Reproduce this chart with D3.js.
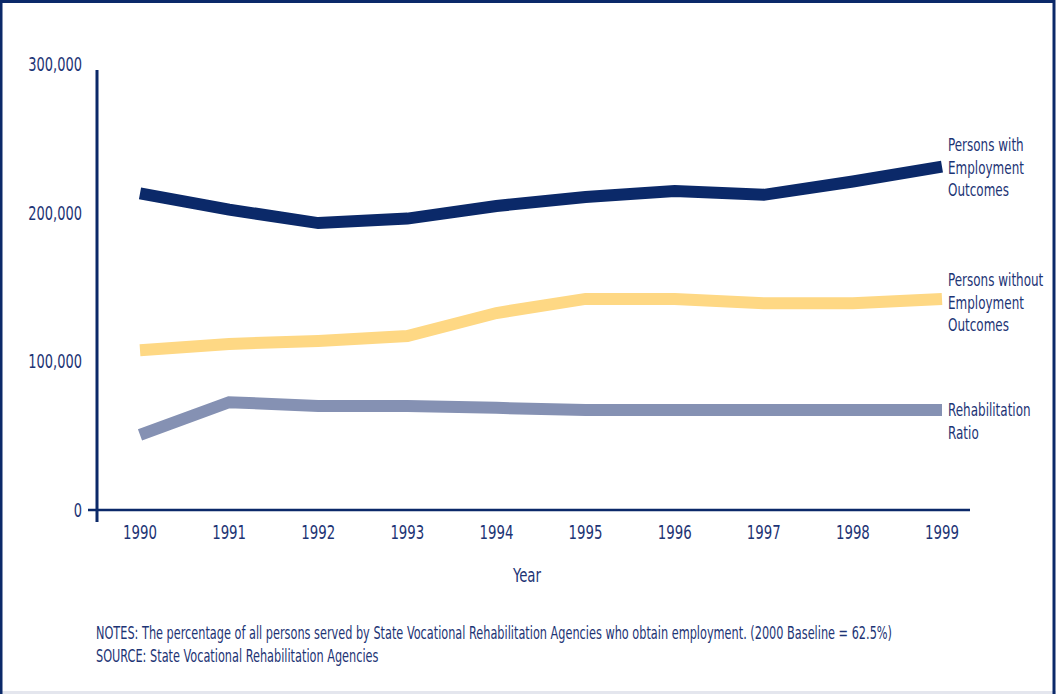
<!DOCTYPE html>
<html>
<head>
<meta charset="utf-8">
<script src="https://cdn.jsdelivr.net/npm/d3@7"></script>
<style>
  html, body { margin: 0; padding: 0; background: #ffffff; }
  svg { display: block; }
  text { font-family: "DejaVu Sans Condensed", "DejaVu Sans", sans-serif; font-stretch: condensed; fill: #1d3475; }
</style>
</head>
<body>
<svg id="chart" width="1056" height="694"></svg>
<script>
// Years on the x axis
const years = [1990, 1991, 1992, 1993, 1994, 1995, 1996, 1997, 1998, 1999];

// Series values (persons)
const withEmployment    = [213000, 202000, 193000, 196000, 204500, 210500, 214500, 212000, 221000, 231000];
const withoutEmployment = [107500, 111700, 113700, 117000, 132500, 142000, 142000, 139000, 139000, 142000];
const rehabRatio        = [50500, 72500, 70000, 70000, 68700, 67300, 67300, 67300, 67300, 67300];

// Y axis ticks
const yTicks = [0, 100000, 200000, 300000];
const yTickLabels = ["0", "100,000", "200,000", "300,000"];

const seriesNames = [
  ["Persons with", "Employment", "Outcomes"],
  ["Persons without", "Employment", "Outcomes"],
  ["Rehabilitation", "Ratio"]
];
const notes = [
  "NOTES: The percentage of all persons served by State Vocational Rehabilitation Agencies who obtain employment. (2000 Baseline = 62.5%)",
  "SOURCE: State Vocational Rehabilitation Agencies"
];

const navy = "#0b2969";

const svg = d3.select("#chart");
const W = 1056, H = 694;

// Draw a horizontally squeezed text (condensed look) anchored at (px, py)
function label(parent, px, py, str, size, squeeze, anchor) {
  return parent.append("text")
    .attr("transform", `translate(${px},${py}) scale(${squeeze},1)`)
    .attr("text-anchor", anchor || "start")
    .attr("font-size", size)
    .text(str);
}

// Frame
svg.append("rect").attr("x", 0).attr("y", 0).attr("width", W).attr("height", H).attr("fill", "#fff");
svg.append("line").attr("x1", 0).attr("x2", W).attr("y1", 692.5).attr("y2", 692.5).attr("stroke", "#e4e6ee").attr("stroke-width", 3);
svg.append("rect").attr("x", 1).attr("y", 1.5).attr("width", 1053).attr("height", 700)
  .attr("fill", "none").attr("stroke", navy).attr("stroke-width", 3);

const x = d3.scalePoint().domain(years).range([140, 942]);
const y = d3.scaleLinear().domain([0, 300000]).range([510, 64]);

// X axis line
svg.append("line").attr("x1", 88).attr("x2", 970).attr("y1", y(0)).attr("y2", y(0))
  .attr("stroke", navy).attr("stroke-width", 2.5);
// Y axis line
svg.append("line").attr("x1", 97).attr("x2", 97).attr("y1", 70).attr("y2", 522)
  .attr("stroke", navy).attr("stroke-width", 3);

// Y tick labels
const gy = svg.append("g");
yTicks.forEach((d, i) => label(gy, 82, y(d) + 7, yTickLabels[i], 19, 0.76, "end"));

// X tick labels
const gx = svg.append("g");
years.forEach(d => label(gx, x(d), 539, String(d), 19, 0.78, "middle"));

label(svg, 527, 582, "Year", 19, 0.78, "middle");

// Lines
const line = d3.line().x((d, i) => x(years[i])).y(d => y(d));
const series = [
  { values: withEmployment, color: "#0b2969" },
  { values: withoutEmployment, color: "#fed884" },
  { values: rehabRatio, color: "#8591b3" }
];
svg.append("g").selectAll("path").data(series).join("path")
  .attr("d", d => line(d.values))
  .attr("fill", "none")
  .attr("stroke", d => d.color)
  .attr("stroke-width", 12)
  .attr("stroke-linejoin", "miter")
  .attr("stroke-linecap", "butt");

// Series labels
const labelTops = [151, 286, 416];
seriesNames.forEach((lines, si) => {
  lines.forEach((s, li) => {
    label(svg, 948, labelTops[si] + li * 22.5, s, 18, 0.74);
  });
});

// Notes
notes.forEach((s, i) => {
  label(svg, 96, 639 + i * 23, s, 17, 0.74);
});
</script>
</body>
</html>
